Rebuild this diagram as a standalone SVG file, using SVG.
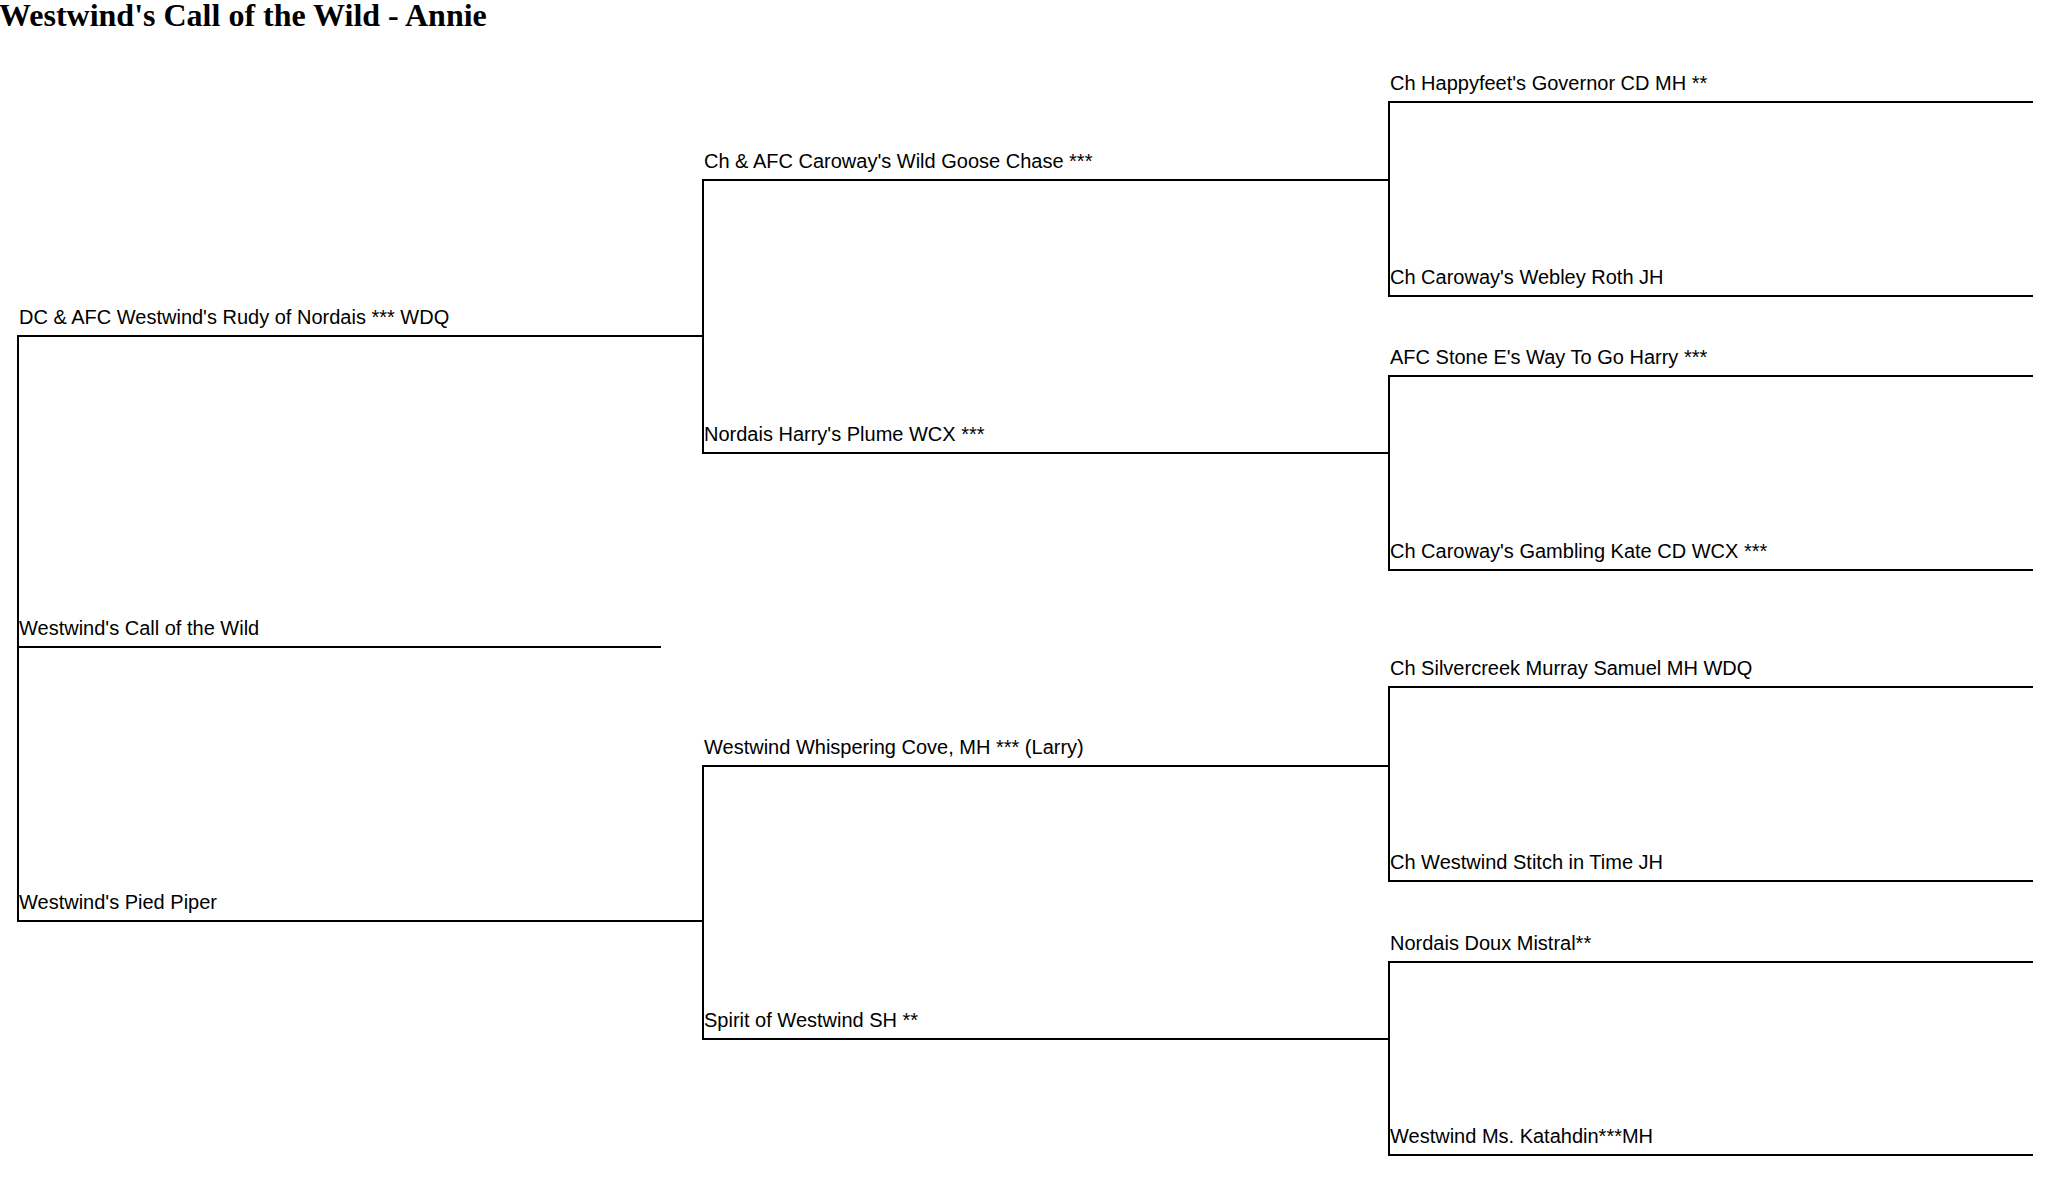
<svg xmlns="http://www.w3.org/2000/svg" width="2050" height="1202" viewBox="0 0 2050 1202">
<style>
.t{font-family:"Liberation Sans",Arial,sans-serif;font-size:20px;fill:#000}
.h{font-family:"Liberation Serif","Times New Roman",serif;font-size:32px;font-weight:bold;fill:#000}
.l{stroke:#000;stroke-width:2;fill:none}
</style>
<rect width="2050" height="1202" fill="#fff"/>
<text class="h" x="-1" y="26">Westwind's Call of the Wild - Annie</text>
<g transform="translate(0,1)">
<g id="connectors">
<line class="l" x1="18" y1="335" x2="18" y2="920"/>
<line class="l" x1="703" y1="179" x2="703" y2="452"/>
<line class="l" x1="703" y1="765" x2="703" y2="1038"/>
<line class="l" x1="1389" y1="101" x2="1389" y2="295"/>
<line class="l" x1="1389" y1="375" x2="1389" y2="569"/>
<line class="l" x1="1389" y1="686" x2="1389" y2="880"/>
<line class="l" x1="1389" y1="961" x2="1389" y2="1154"/>
</g>
<g id="n-self"><text class="t" x="19" y="634">Westwind's Call of the Wild</text><line class="l" x1="18" y1="646" x2="661" y2="646"/></g>
<g id="n-sire"><text class="t" x="19" y="323">DC &amp; AFC Westwind's Rudy of Nordais *** WDQ</text><line class="l" x1="17" y1="335" x2="704" y2="335"/></g>
<g id="n-dam"><text class="t" x="19" y="908">Westwind's Pied Piper</text><line class="l" x1="17" y1="920" x2="704" y2="920"/></g>
<g id="n-ss"><text class="t" x="704" y="167">Ch &amp; AFC Caroway's Wild Goose Chase ***</text><line class="l" x1="702" y1="179" x2="1390" y2="179"/></g>
<g id="n-sd"><text class="t" x="704" y="440">Nordais Harry's Plume WCX ***</text><line class="l" x1="702" y1="452" x2="1390" y2="452"/></g>
<g id="n-ds"><text class="t" x="704" y="753">Westwind Whispering Cove, MH *** (Larry)</text><line class="l" x1="702" y1="765" x2="1390" y2="765"/></g>
<g id="n-dd"><text class="t" x="704" y="1026">Spirit of Westwind SH **</text><line class="l" x1="702" y1="1038" x2="1390" y2="1038"/></g>
<g id="n-sss"><text class="t" x="1390" y="89">Ch Happyfeet's Governor CD MH **</text><line class="l" x1="1388" y1="101" x2="2033" y2="101"/></g>
<g id="n-ssd"><text class="t" x="1390" y="283">Ch Caroway's Webley Roth JH</text><line class="l" x1="1388" y1="295" x2="2033" y2="295"/></g>
<g id="n-sds"><text class="t" x="1390" y="363">AFC Stone E's Way To Go Harry ***</text><line class="l" x1="1388" y1="375" x2="2033" y2="375"/></g>
<g id="n-sdd"><text class="t" x="1390" y="557">Ch Caroway's Gambling Kate CD WCX ***</text><line class="l" x1="1388" y1="569" x2="2033" y2="569"/></g>
<g id="n-dss"><text class="t" x="1390" y="674">Ch Silvercreek Murray Samuel MH WDQ</text><line class="l" x1="1388" y1="686" x2="2033" y2="686"/></g>
<g id="n-dsd"><text class="t" x="1390" y="868">Ch Westwind Stitch in Time JH</text><line class="l" x1="1388" y1="880" x2="2033" y2="880"/></g>
<g id="n-dds"><text class="t" x="1390" y="949">Nordais Doux Mistral**</text><line class="l" x1="1388" y1="961" x2="2033" y2="961"/></g>
<g id="n-ddd"><text class="t" x="1390" y="1142">Westwind Ms. Katahdin***MH</text><line class="l" x1="1388" y1="1154" x2="2033" y2="1154"/></g>
</g>
</svg>
